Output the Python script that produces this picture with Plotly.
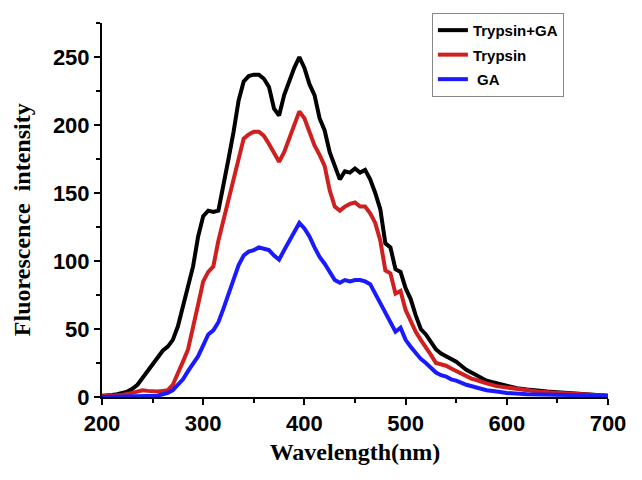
import plotly.graph_objects as go

# 波長 (nm) と各サンプルの蛍光強度
wl_black = [200, 205, 210, 215, 220, 225, 230, 235, 240, 245, 250, 255, 260, 265, 270, 275, 280, 285, 290, 295,
            300, 305, 310, 315, 320, 325, 330, 335, 340, 345, 350, 355, 360, 365, 370, 375, 380, 385, 390, 395,
            400, 405, 410, 415, 420, 425, 430, 435, 440, 445, 450, 455, 460, 465, 470, 475, 480, 485, 490, 495,
            500, 505, 510, 515, 520, 525, 530, 535, 540, 545, 550, 555, 560, 565, 570, 575, 580, 585, 590, 595,
            600, 610, 620, 630, 640, 650, 660, 670, 680, 690, 700]
trypsin_ga = [1, 1, 1.5, 2, 3, 4, 6, 9, 14, 19, 23, 28, 34, 37, 42, 52, 66, 80, 96, 118,
              133, 137, 136, 137, 155, 175, 195, 218, 232, 236, 237, 237, 234, 228, 212, 207, 222, 233, 242, 250,
              242, 230, 222, 205, 196, 180, 169, 160, 166, 165, 168, 165, 167, 160, 150, 138, 113, 110, 94, 92,
              80, 72, 60, 50, 46, 41, 35, 32, 30, 28, 26, 23, 20, 18, 16, 14, 12, 11, 10, 9,
              8, 6.5, 5.5, 4.5, 4, 3.5, 3, 2.5, 2, 1.5, 1]

wl_red = [200, 210, 220, 230, 235, 240, 245, 250, 255, 260, 265, 270, 275, 280, 285, 290, 295,
          300, 305, 310, 315, 320, 325, 330, 335, 340, 345, 350, 355, 360, 365, 370, 375, 380, 385, 390, 395,
          400, 405, 410, 415, 420, 425, 430, 435, 440, 445, 450, 455, 460, 465, 470, 475, 480, 485, 490, 495,
          500, 505, 510, 515, 520, 525, 530, 535, 540, 545, 550, 555, 560, 565, 570, 575, 580, 590,
          600, 610, 620, 630, 640, 650, 660, 670, 680, 690, 700]
trypsin = [0.5, 1, 1.5, 3, 4, 5, 4.5, 4, 4, 4.5, 5, 9, 17, 26, 35, 50, 68,
           85, 92, 96, 115, 130, 145, 160, 178, 190, 193, 195, 195, 192, 186, 180, 173, 180, 190, 200, 210,
           205, 195, 185, 178, 170, 152, 140, 137, 140, 142, 143, 140, 140, 135, 128, 115, 93, 91, 76, 78,
           64, 56, 48, 42, 37, 31, 25, 24, 23, 21, 19, 17, 15, 13.5, 12.5, 11, 10, 8,
           7, 5.5, 4.5, 4, 3.5, 3, 2.5, 2, 1.5, 1.2, 1]

wl_blue = [200, 230, 250, 255, 260, 265, 270, 275, 280, 285, 290, 295,
           300, 305, 310, 315, 320, 325, 330, 335, 340, 345, 350, 355, 360, 365, 370, 375, 380, 385, 390, 395,
           400, 405, 410, 415, 420, 425, 430, 435, 440, 445, 450, 455, 460, 465, 470, 475, 480, 485, 490, 495,
           500, 505, 510, 515, 520, 525, 530, 535, 540, 545, 550, 560, 570, 580, 590,
           600, 620, 650, 700]
ga = [0, 0.5, 1, 1, 2, 3, 5, 9, 13, 19, 24, 30,
      38, 46, 49, 55, 65, 75, 85, 97, 104, 107, 108, 110, 109, 108, 104, 101, 108, 115, 122, 128,
      124, 118, 110, 103, 98, 92, 86, 84, 86, 85, 86, 86, 85, 83, 76, 69, 62, 54, 48, 51,
      42, 37, 32, 28, 25, 21, 18, 16, 15, 13, 12, 9, 7, 5, 4,
      3, 2, 1.5, 1]

x_ticks = [200, 300, 400, 500, 600, 700]
y_ticks = [0, 50, 100, 150, 200, 250]

fig = go.Figure()
fig.add_trace(go.Scatter(x=wl_black, y=trypsin_ga, mode="lines", name="Trypsin+GA",
                         legendgroup="a", line=dict(color="black", width=4)))
fig.add_trace(go.Scatter(x=wl_red, y=trypsin, mode="lines", name="Trypsin",
                         legendgroup="b", line=dict(color="#d01f1f", width=4)))
fig.add_trace(go.Scatter(x=wl_blue, y=ga, mode="lines", name=" GA",
                         legendgroup="c", line=dict(color="#1a1aff", width=4)))

tick_font = dict(family="Liberation Sans", size=22, color="black", weight="bold")
title_font = dict(family="Liberation Serif", size=24, color="black", weight="bold")
axis_common = dict(
    showline=True, linecolor="black", linewidth=2, mirror=False,
    ticks="outside", ticklen=6, tickwidth=2, tickcolor="black",
    showgrid=False, zeroline=False, tickfont=tick_font, automargin=False,
)

fig.update_xaxes(range=[200, 700], tickvals=x_ticks,
                 minor=dict(ticks="outside", ticklen=4, tickwidth=2, tickcolor="black", dtick=50),
                 title=dict(text="Wavelength(nm)", standoff=8, font=title_font),
                 **axis_common)
fig.update_yaxes(range=[0, 275], tickvals=y_ticks,
                 minor=dict(ticks="outside", ticklen=4, tickwidth=2, tickcolor="black", dtick=25),
                 **axis_common)

# 縦軸タイトル（少し下寄りに配置）
fig.add_annotation(text="Fluorescence  intensity", textangle=-90,
                   xref="paper", yref="paper", x=-0.158, y=0.473,
                   xanchor="center", yanchor="middle", showarrow=False,
                   font=title_font)

# ページ本体の余白 (8px) を差し引いたマージン
fig.update_layout(
    width=642, height=480,
    margin=dict(l=94, r=42, t=15, b=91, autoexpand=False),
    plot_bgcolor="white", paper_bgcolor="white",
    legend=dict(x=0.652, y=1.027, xanchor="left", yanchor="top",
                bordercolor="#888888", borderwidth=1, bgcolor="white",
                font=dict(family="Liberation Sans", size=15, color="black", weight="bold"),
                traceorder="grouped", tracegroupgap=2, itemwidth=30,
                entrywidth=118, entrywidthmode="pixels"),
)

fig.write_html("out.html")
